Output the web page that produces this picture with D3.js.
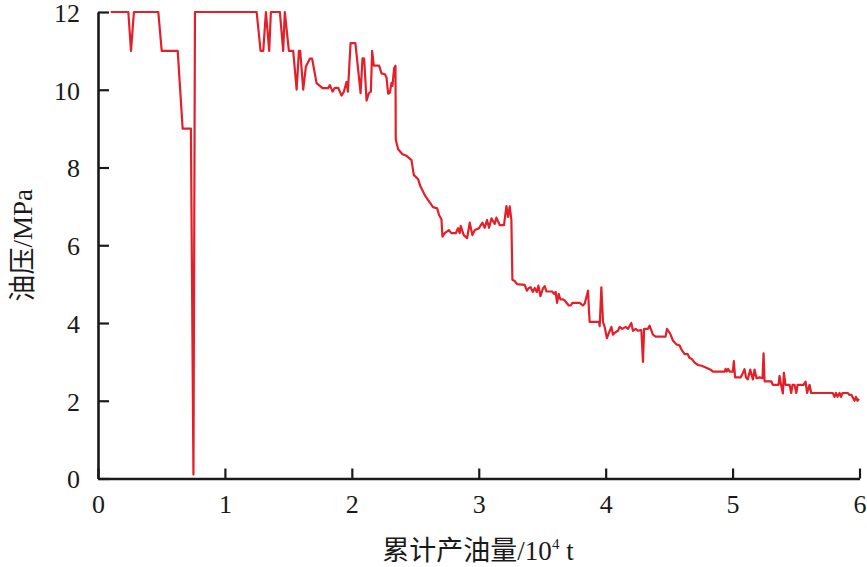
<!DOCTYPE html>
<html>
<head>
<meta charset="utf-8">
<script src="https://cdn.jsdelivr.net/npm/d3@7"></script>
<style>
  html, body { margin: 0; padding: 0; background: #fff; }
  svg { display: block; }
  text { font-family: "Liberation Serif", "Noto Sans CJK SC", serif; }
</style>
</head>
<body>
<svg id="chart" width="867" height="567"></svg>
<script>
// Cumulative oil production (10^4 t)
const cumOil = [
  0.100, 0.239, 0.260, 0.283, 0.475, 0.502, 0.628, 0.667, 0.732, 0.752, 0.764,
  1.250, 1.281, 1.302, 1.323, 1.349, 1.362, 1.433, 1.459, 1.472, 1.504, 1.538,
  1.565, 1.583, 1.593, 1.617, 1.638, 1.669, 1.687, 1.722, 1.748, 1.769, 1.813,
  1.827, 1.848, 1.866, 1.892, 1.919, 1.937, 1.958, 1.969, 1.990, 2.028, 2.069,
  2.084, 2.097, 2.116, 2.134, 2.150, 2.160, 2.173, 2.215, 2.234, 2.260, 2.273,
  2.286, 2.299, 2.313, 2.320, 2.333, 2.344, 2.346, 2.365, 2.399, 2.431, 2.470,
  2.488, 2.522, 2.541, 2.575, 2.601, 2.640, 2.672, 2.687, 2.706, 2.714, 2.732,
  2.764, 2.785, 2.819, 2.837, 2.850, 2.858, 2.882, 2.908, 2.929, 2.950, 2.969,
  3.002, 3.029, 3.047, 3.065, 3.081, 3.100, 3.126, 3.139, 3.165, 3.199, 3.218,
  3.231, 3.244, 3.257, 3.265, 3.283, 3.302, 3.362, 3.380, 3.394, 3.409, 3.425,
  3.441, 3.457, 3.470, 3.486, 3.506, 3.520, 3.533, 3.580, 3.593, 3.606, 3.617,
  3.630, 3.643, 3.664, 3.677, 3.709, 3.724, 3.738, 3.795, 3.821, 3.835, 3.861,
  3.869, 3.874, 3.947, 3.953, 3.966, 3.979, 3.992, 4.010, 4.026, 4.045, 4.057,
  4.071, 4.097, 4.110, 4.131, 4.157, 4.176, 4.202, 4.215, 4.236, 4.254, 4.281,
  4.294, 4.303, 4.333, 4.346, 4.372, 4.394, 4.472, 4.483, 4.509, 4.530, 4.557,
  4.583, 4.596, 4.622, 4.646, 4.661, 4.677, 4.701, 4.727, 4.756, 4.793, 4.827,
  4.845, 4.937, 4.945, 4.953, 4.965, 4.976, 5.002, 5.010, 5.020, 5.063, 5.079,
  5.094, 5.106, 5.120, 5.139, 5.160, 5.173, 5.189, 5.213, 5.236, 5.244, 5.252,
  5.305, 5.317, 5.349, 5.362, 5.370, 5.382, 5.396, 5.404, 5.417, 5.449, 5.462,
  5.472, 5.488, 5.502, 5.512, 5.528, 5.559, 5.575, 5.587, 5.606, 5.620, 5.790,
  5.803, 5.815, 5.827, 5.843, 5.854, 5.866, 5.908, 5.921, 5.937, 5.961, 5.972,
  5.984, 5.996
];
// Tubing (oil) pressure (MPa)
const oilPressure = [
  12, 12, 11, 12, 12, 11, 11, 9, 9, 0.1, 12,
  12, 11, 11, 12, 11, 12, 12, 11, 12, 11, 11,
  10.0, 11, 11, 10.0, 10.6, 10.8, 10.8, 10.17, 10.1, 10.04, 10.04,
  10.12, 9.95, 10.05, 10.05, 9.85, 9.95, 10.2, 9.95, 11.2, 11.2, 9.91,
  10.81, 10.8, 9.72, 9.91, 9.95, 11.0, 10.62, 10.62, 10.42, 10.4, 10.32,
  9.9, 9.92, 10.18, 10.1, 10.55, 10.62, 8.72, 8.47, 8.34, 8.3, 8.19,
  7.81, 7.7, 7.51, 7.29, 7.16, 6.98, 6.95, 6.78, 6.67, 6.22, 6.31,
  6.39, 6.31, 6.31, 6.44, 6.31, 6.5, 6.26, 6.18, 6.58, 6.26, 6.39,
  6.44, 6.58, 6.45, 6.65, 6.45, 6.69, 6.55, 6.71, 6.52, 6.52, 7.01,
  6.73, 7.0, 6.65, 5.11, 5.08, 5.0, 4.98, 4.83, 4.9, 4.92, 4.8,
  4.9, 4.8, 4.96, 4.69, 4.89, 4.95, 4.81, 4.81, 4.75, 4.8, 4.52,
  4.75, 4.61, 4.61, 4.58, 4.45, 4.45, 4.52, 4.52, 4.45, 4.5, 4.83,
  4.29, 4.03, 4.03, 3.92, 4.92, 4.03, 3.9, 3.61, 3.75, 3.9, 3.7,
  3.75, 3.8, 3.9, 3.85, 3.9, 3.85, 4.0, 3.8, 3.85, 3.8, 3.82,
  3.0, 3.85, 3.85, 3.93, 3.7, 3.65, 3.65, 3.85, 3.72, 3.55, 3.45,
  3.42, 3.32, 3.2, 3.2, 3.1, 3.08, 2.98, 2.92, 2.9, 2.85, 2.8,
  2.75, 2.75, 2.82, 2.75, 2.82, 2.75, 2.75, 3.02, 2.6, 2.6, 2.7,
  2.81, 2.6, 2.55, 2.8, 2.55, 2.8, 2.58, 2.6, 2.58, 3.22, 2.5,
  2.5, 2.41, 2.41, 2.41, 2.64, 2.41, 2.19, 2.72, 2.41, 2.41, 2.2,
  2.41, 2.41, 2.2, 2.41, 2.41, 2.41, 2.49, 2.2, 2.41, 2.2, 2.2,
  2.1, 2.2, 2.1, 2.2, 2.1, 2.2, 2.2, 2.15, 2.15, 2.0, 2.1,
  2.0, 2.05
];
const xTicks = [0, 1, 2, 3, 4, 5, 6];
const yTicks = [0, 2, 4, 6, 8, 10, 12];
const xTitle = "累计产油量/10";
const xTitleSup = "4";
const xTitleUnit = " t";
const yTitle = "油压/MPa";

const svg = d3.select("#chart");
const mLeft = 98, mRight = 859.5, mTop = 12, mBottom = 478.5;

const x = d3.scaleLinear().domain([0, 6]).range([mLeft, mRight]);
const y = d3.scaleLinear().domain([0, 12]).range([mBottom, mTop]);

const pts = cumOil.map((v, i) => [v, oilPressure[i]]);
const line = d3.line().x(d => x(d[0])).y(d => y(d[1]));

svg.append("path")
  .datum(pts)
  .attr("d", line)
  .attr("fill", "none")
  .attr("stroke", "#e3202a")
  .attr("stroke-width", 2.2)
  .attr("stroke-linejoin", "round");

const xAxis = d3.axisBottom(x).tickValues(xTicks).tickFormat(d3.format("d"))
  .tickSizeInner(-10).tickSizeOuter(0).tickPadding(16);
const yAxis = d3.axisLeft(y).tickValues(yTicks).tickFormat(d3.format("d"))
  .tickSizeInner(-11).tickSizeOuter(0).tickPadding(18);

const gx = svg.append("g").attr("transform", `translate(0,${mBottom})`).call(xAxis);
const gy = svg.append("g").attr("transform", `translate(${mLeft},0)`).call(yAxis);

[gx, gy].forEach(g => {
  g.select(".domain").attr("stroke", "#1a1a1a").attr("stroke-width", 2.6);
  g.selectAll(".tick line").attr("stroke", "#1a1a1a").attr("stroke-width", 2.2);
  g.selectAll(".tick text")
    .attr("fill", "#1a1a1a")
    .style("font-family", "'Liberation Serif', serif")
    .style("font-size", "26px");
});
gy.selectAll(".tick text").attr("dy", "0.36em");

// x title
const xt = svg.append("text")
  .attr("x", 478)
  .attr("y", 560)
  .attr("text-anchor", "middle")
  .attr("fill", "#1a1a1a")
  .style("font-size", "27px");
xt.append("tspan").text(xTitle);
xt.append("tspan").text(xTitleSup).attr("dy", -11).style("font-size", "15px");
xt.append("tspan").text(xTitleUnit).attr("dy", 11);

// y title
svg.append("text")
  .attr("transform", `translate(32,${(mTop + mBottom) / 2}) rotate(-90)`)
  .attr("text-anchor", "middle")
  .attr("fill", "#1a1a1a")
  .style("font-size", "27px")
  .text(yTitle);
</script>
</body>
</html>
